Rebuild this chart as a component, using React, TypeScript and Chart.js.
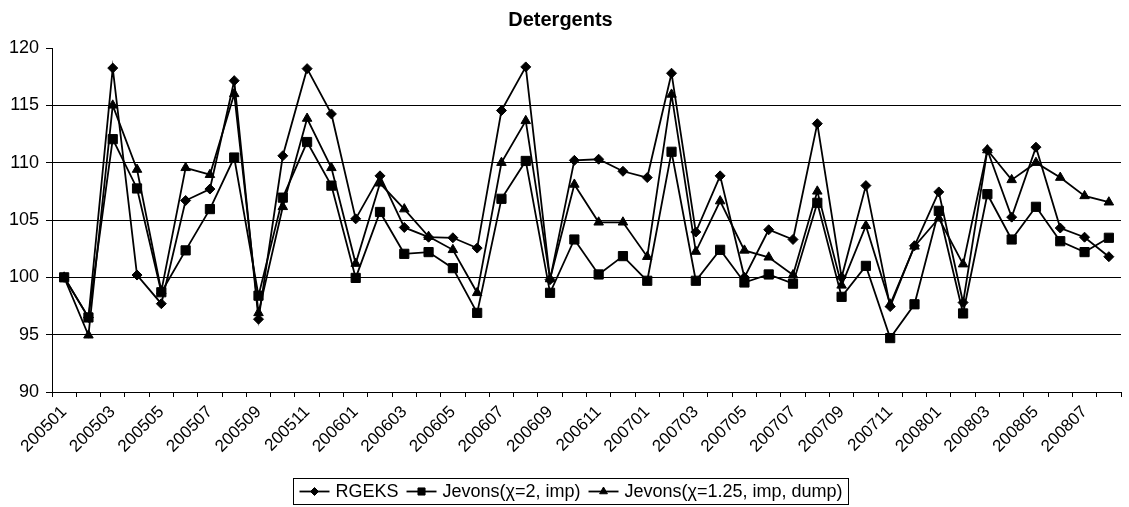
import React, { useEffect, useRef } from 'react';
import { Chart, registerables } from 'chart.js';

Chart.register(...registerables);

const categories = [
  '200501', '200502', '200503', '200504', '200505', '200506', '200507', '200508', '200509', '200510', '200511', '200512',
  '200601', '200602', '200603', '200604', '200605', '200606', '200607', '200608', '200609', '200610', '200611', '200612',
  '200701', '200702', '200703', '200704', '200705', '200706', '200707', '200708', '200709', '200710', '200711', '200712',
  '200801', '200802', '200803', '200804', '200805', '200806', '200807', '200808',
];

const rgeks = [
  100, 96.5, 118.25, 100.2, 97.7, 106.7, 107.7, 117.15, 96.35, 110.6, 118.2, 114.25,
  105.1, 108.85, 104.35, 103.5, 103.45, 102.55, 114.55, 118.35, 99.8, 110.2, 110.3, 109.25,
  108.7, 117.8, 103.95, 108.85, 100.0, 104.15, 103.3, 113.4, 100.0, 108.0, 97.45, 102.75,
  107.45, 97.8, 111.1, 105.25, 111.35, 104.3, 103.5, 101.8,
];

const jevons2 = [
  100, 96.5, 112.05, 107.75, 98.7, 102.35, 105.95, 110.45, 98.4, 106.95, 111.8, 108.0,
  99.95, 105.7, 102.05, 102.2, 100.8, 96.9, 106.85, 110.15, 98.65, 103.3, 100.25, 101.85,
  99.7, 110.95, 99.7, 102.4, 99.55, 100.25, 99.45, 106.5, 98.3, 101.0, 94.7, 97.65,
  105.8, 96.85, 107.25, 103.3, 106.15, 103.15, 102.2, 103.45,
];

const jevons125 = [
  100, 94.95, 115.0, 109.4, 98.8, 109.55, 108.95, 116.0, 96.9, 106.15, 113.85, 109.55,
  101.2, 108.2, 105.95, 103.55, 102.4, 98.65, 110.0, 113.65, 99.85, 108.1, 104.8, 104.8,
  101.8, 115.95, 102.25, 106.65, 102.35, 101.75, 100.2, 107.5, 99.3, 104.5, 97.65, 102.7,
  105.15, 101.15, 111.1, 108.5, 110.0, 108.7, 107.1, 106.55,
];

const seriesNames = ['RGEKS', 'Jevons(\u03c7=2, imp)', 'Jevons(\u03c7=1.25, imp, dump)'];
const seriesMarkers = ['rectRot', 'rect', 'triangle'];
const yMin = 90;
const yMax = 120;
const yStep = 5;
const titleText = 'Detergents';

const FONT = '"Liberation Sans", Arial, Helvetica, sans-serif';

function drawMarker(ctx: CanvasRenderingContext2D, style: string, x: number, y: number, r: number) {
  ctx.beginPath();
  if (style === 'rectRot') {
    ctx.moveTo(x, y - r);
    ctx.lineTo(x + r, y);
    ctx.lineTo(x, y + r);
    ctx.lineTo(x - r, y);
  } else if (style === 'rect') {
    const s = r * Math.SQRT1_2;
    ctx.rect(x - s, y - s, 2 * s, 2 * s);
  } else {
    const w = r * Math.sin(Math.PI / 3);
    ctx.moveTo(x, y - r);
    ctx.lineTo(x + w, y + r / 2);
    ctx.lineTo(x - w, y + r / 2);
  }
  ctx.closePath();
  ctx.fillStyle = '#000';
  ctx.fill();
  ctx.lineWidth = 1;
  ctx.strokeStyle = '#000';
  ctx.stroke();
}

const legendRadii = [4, 5, 4.5];

const boxLegend = {
  id: 'boxLegend',
  afterDraw(chart: any) {
    const ctx: CanvasRenderingContext2D = chart.ctx;
    ctx.save();
    ctx.font = `18px ${FONT}`;
    const lineLen = 30;
    const gapLT = 6;
    const gapItem = 8;
    const padX = 6;
    const widths = seriesNames.map((t) => ctx.measureText(t).width);
    let total = padX * 2 + gapItem * (seriesNames.length - 1);
    widths.forEach((w) => { total += lineLen + gapLT + w; });
    const cx = 570.5;
    const left = Math.round(cx - total / 2) + 0.5;
    const top = 478.5;
    const h = 26;
    ctx.strokeStyle = '#000';
    ctx.lineWidth = 1;
    ctx.strokeRect(left, top, Math.round(total), h);
    const cy = top + h / 2;
    let x = left + padX;
    seriesNames.forEach((name, i) => {
      ctx.beginPath();
      ctx.moveTo(x, cy);
      ctx.lineTo(x + lineLen, cy);
      ctx.lineWidth = 1.8;
      ctx.strokeStyle = '#000';
      ctx.stroke();
      drawMarker(ctx, seriesMarkers[i], x + lineLen / 2, cy, legendRadii[i]);
      x += lineLen + gapLT;
      ctx.fillStyle = '#000';
      ctx.textAlign = 'left';
      ctx.textBaseline = 'middle';
      ctx.fillText(name, x, cy + 1);
      x += widths[i] + gapItem;
    });
    ctx.restore();
  },
};

export default function App() {
  const ref = useRef<HTMLCanvasElement | null>(null);

  useEffect(() => {
    if (!ref.current) return;
    Chart.defaults.font.family = FONT;
    Chart.defaults.color = '#000';
    const values = [rgeks, jevons2, jevons125];
    const radii = [5, 6.5, 5.5];
    const chart = new Chart(ref.current, {
      type: 'line',
      data: {
        labels: categories,
        datasets: values.map((v, i) => ({
          label: seriesNames[i],
          data: v,
          borderColor: '#000',
          backgroundColor: '#000',
          borderWidth: 1.8,
          pointStyle: seriesMarkers[i] as any,
          pointRadius: radii[i],
          pointBackgroundColor: '#000',
          pointBorderColor: '#000',
          pointBorderWidth: 1,
          tension: 0,
          fill: false,
          order: 3 - i,
        })),
      },
      options: {
        animation: false,
        responsive: false,
        devicePixelRatio: 1,
        layout: { padding: { left: 0, right: 8, top: 0, bottom: 29 } },
        plugins: {
          legend: { display: false },
          tooltip: { enabled: false },
          title: {
            display: true,
            text: titleText,
            font: { size: 20, weight: 'bold', family: FONT },
            color: '#000',
            padding: { top: 8, bottom: 16 },
          },
        },
        scales: {
          x: {
            type: 'category',
            offset: true,
            grid: {
              display: true,
              offset: true,
              drawOnChartArea: false,
              drawTicks: true,
              tickLength: 5,
              color: '#000',
              tickColor: '#000',
              lineWidth: 1,
            },
            border: { display: true, color: '#000', width: 1 },
            ticks: {
              autoSkip: false,
              maxRotation: 45,
              minRotation: 45,
              padding: 5,
              font: { size: 17, family: FONT },
              color: '#000',
              callback: (_v: any, idx: number) => (idx % 2 === 0 ? categories[idx] : ''),
            },
            afterFit: (scale: any) => { scale.height = 86; },
          },
          y: {
            min: yMin,
            max: yMax,
            grid: {
              display: true,
              drawTicks: true,
              tickLength: 6,
              color: (c: any) => (c.tick && c.tick.value === yMax ? 'rgba(0,0,0,0)' : '#000'),
              tickColor: '#000',
              lineWidth: 1,
            },
            border: { display: true, color: '#000', width: 1 },
            ticks: {
              stepSize: yStep,
              padding: 7,
              font: { size: 18, family: FONT },
              color: '#000',
            },
            afterFit: (scale: any) => { scale.width = 52; },
          },
        },
      },
      plugins: [boxLegend],
    });
    return () => chart.destroy();
  }, []);

  return (
    <div style={{ position: 'absolute', left: 0, top: 0, width: 1129, height: 507, background: '#fff' }}>
      <canvas ref={ref} width={1129} height={507} style={{ display: 'block', width: 1129, height: 507 }} />
    </div>
  );
}
